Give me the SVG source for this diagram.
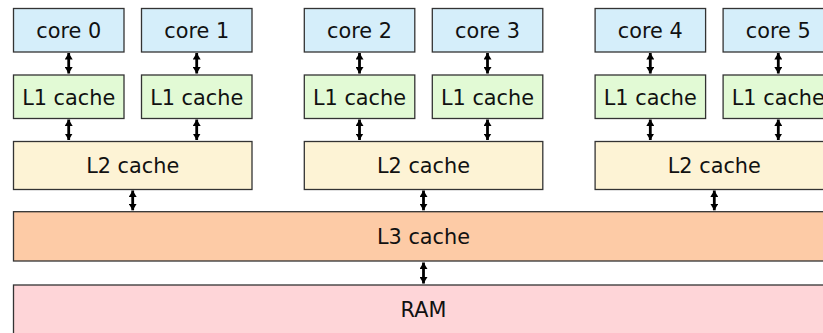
<svg xmlns="http://www.w3.org/2000/svg" width="823" height="333" viewBox="0 0 823 333">
<defs>
<marker id="ah" viewBox="0 0 6.5 8" refX="6.5" refY="4" markerWidth="6.5" markerHeight="8" markerUnits="userSpaceOnUse" orient="auto-start-reverse">
<path d="M0,0 L6.5,4 L0,8 Z" fill="#000"/>
</marker>
</defs>
<style>
rect{stroke:#333;stroke-width:1.3}
.core{fill:#d5eefa}
.l1{fill:#e2fad5}
.l2{fill:#fdf3d5}
.l3{fill:#fdcba6}
.ram{fill:#fed5d8}
text{font-family:"DejaVu Sans",sans-serif;font-size:20.8px;fill:#111;text-anchor:middle}
.conn path{stroke:#000;stroke-width:2.8;fill:none;marker-start:url(#ah);marker-end:url(#ah)}
</style>
<g id="core0"><rect class="core" x="13.5" y="8.5" width="110.5" height="43.5"/><text x="68.7" y="38">core 0</text></g>
<g id="core1"><rect class="core" x="141.5" y="8.5" width="110.5" height="43.5"/><text x="196.7" y="38">core 1</text></g>
<g id="core2"><rect class="core" x="304.3" y="8.5" width="110.5" height="43.5"/><text x="359.5" y="38">core 2</text></g>
<g id="core3"><rect class="core" x="432.3" y="8.5" width="110.5" height="43.5"/><text x="487.5" y="38">core 3</text></g>
<g id="core4"><rect class="core" x="595.1" y="8.5" width="110.5" height="43.5"/><text x="650.3" y="38">core 4</text></g>
<g id="core5"><rect class="core" x="723.1" y="8.5" width="110.5" height="43.5"/><text x="778.3" y="38">core 5</text></g>
<g id="l1_0"><rect class="l1" x="13.5" y="75" width="110.5" height="43.5"/><text x="68.7" y="104.8">L1 cache</text></g>
<g id="l1_1"><rect class="l1" x="141.5" y="75" width="110.5" height="43.5"/><text x="196.7" y="104.8">L1 cache</text></g>
<g id="l1_2"><rect class="l1" x="304.3" y="75" width="110.5" height="43.5"/><text x="359.5" y="104.8">L1 cache</text></g>
<g id="l1_3"><rect class="l1" x="432.3" y="75" width="110.5" height="43.5"/><text x="487.5" y="104.8">L1 cache</text></g>
<g id="l1_4"><rect class="l1" x="595.1" y="75" width="110.5" height="43.5"/><text x="650.3" y="104.8">L1 cache</text></g>
<g id="l1_5"><rect class="l1" x="723.1" y="75" width="110.5" height="43.5"/><text x="778.3" y="104.8">L1 cache</text></g>
<g id="l2_0"><rect class="l2" x="13.5" y="141.5" width="238.5" height="48"/><text x="132.7" y="172.5">L2 cache</text></g>
<g id="l2_1"><rect class="l2" x="304.3" y="141.5" width="238.5" height="48"/><text x="423.5" y="172.5">L2 cache</text></g>
<g id="l2_2"><rect class="l2" x="595.1" y="141.5" width="238.5" height="48"/><text x="714.3" y="172.5">L2 cache</text></g>
<g id="l3"><rect class="l3" x="13.5" y="211.7" width="820" height="49.3"/><text x="423.5" y="243.8">L3 cache</text></g>
<g id="ram"><rect class="ram" x="13.5" y="285" width="820" height="50"/><text x="423.5" y="316.5">RAM</text></g>
<g id="connectors" class="conn">
<path d="M68.7,53 V73.5"/>
<path d="M196.7,53 V73.5"/>
<path d="M359.5,53 V73.5"/>
<path d="M487.5,53 V73.5"/>
<path d="M650.3,53 V73.5"/>
<path d="M778.3,53 V73.5"/>
<path d="M68.7,119.5 V140"/>
<path d="M196.7,119.5 V140"/>
<path d="M359.5,119.5 V140"/>
<path d="M487.5,119.5 V140"/>
<path d="M650.3,119.5 V140"/>
<path d="M778.3,119.5 V140"/>
<path d="M132.7,190.5 V210.3"/>
<path d="M423.5,190.5 V210.3"/>
<path d="M714.3,190.5 V210.3"/>
<path d="M423.5,262.5 V283.5"/>
</g>
</svg>
